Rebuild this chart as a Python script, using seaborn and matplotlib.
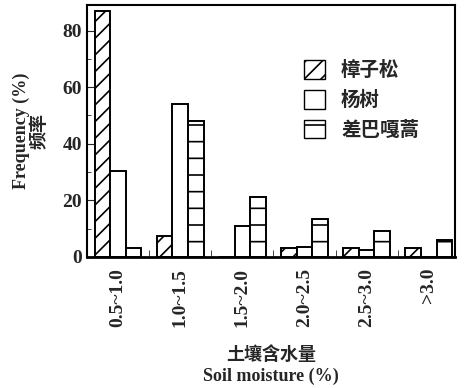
import pandas as pd
import seaborn as sns
import matplotlib.pyplot as plt
from matplotlib.patches import Patch
from matplotlib.ticker import MultipleLocator, FixedLocator

# data
categories = ['0.5~1.0', '1.0~1.5', '1.5~2.0', '2.0~2.5', '2.5~3.0', '>3.0']
species = ['樟子松', '杨树', '差巴嘎蒿']
zhangzisong = [87, 7.5, 0, 3, 3, 3]
yangshu = [30.5, 54, 11, 3.5, 2.5, 0]
chabagahao = [3, 48, 21, 13.5, 9, 6]
hatches = ['//', '', '-']

df = pd.DataFrame({'moisture': categories * 3,
                   'species': [s for s in species for _ in categories],
                   'freq': zhangzisong + yangshu + chabagahao})

sns.set_style('white')
plt.rcParams['font.family'] = ['Liberation Serif', 'Noto Sans CJK SC']
plt.rcParams['font.weight'] = 'bold'
plt.rcParams['hatch.linewidth'] = 1.2

fig, ax = plt.subplots(figsize=(4.68, 3.88), dpi=100)
fig.subplots_adjust(left=0.186, right=0.972, top=0.987, bottom=0.338)

sns.barplot(data=df, x='moisture', y='freq', hue='species', order=categories,
            hue_order=species, width=0.75, palette=['white'] * 3,
            edgecolor='black', linewidth=1.4, ax=ax, legend=False)

for cont, h in zip(ax.containers, hatches):
    for p in cont:
        p.set_hatch(h)

handles = [Patch(facecolor='white', edgecolor='black', hatch=h, label=s)
           for s, h in zip(species, hatches)]
ax.legend(handles=handles, loc='upper left', bbox_to_anchor=(0.59, 0.78),
          frameon=False, fontsize=14, handlelength=1.1, handleheight=1.1,
          labelspacing=0.5, handletextpad=0.8, borderpad=0, borderaxespad=0)

ax.set_xlim(-0.5, 5.42)
ax.set_ylim(0, 89)
ax.yaxis.set_major_locator(MultipleLocator(20))
ax.yaxis.set_minor_locator(MultipleLocator(10))
ax.xaxis.set_minor_locator(FixedLocator([0.5, 1.5, 2.5, 3.5, 4.5]))
ax.tick_params(axis='both', which='both', direction='in', left=True, bottom=True)
ax.tick_params(axis='y', which='major', length=5, labelsize=14)
ax.tick_params(axis='y', which='minor', length=3)
ax.tick_params(axis='x', which='major', length=0, labelsize=14, rotation=90, pad=8)
ax.tick_params(axis='x', which='minor', length=5)

for s in ax.spines.values():
    s.set_linewidth(1.5)
    s.set_color('black')
ax.spines['bottom'].set_linewidth(2)

ax.set_xlabel('土壤含水量\nSoil moisture (%)', fontsize=13, fontweight='bold', labelpad=14,
              linespacing=1.25)
ax.set_ylabel('Frequency (%)\n频率', fontsize=13, fontweight='bold', labelpad=10,
              linespacing=1.1)

fig.savefig('out.png', dpi=100)
